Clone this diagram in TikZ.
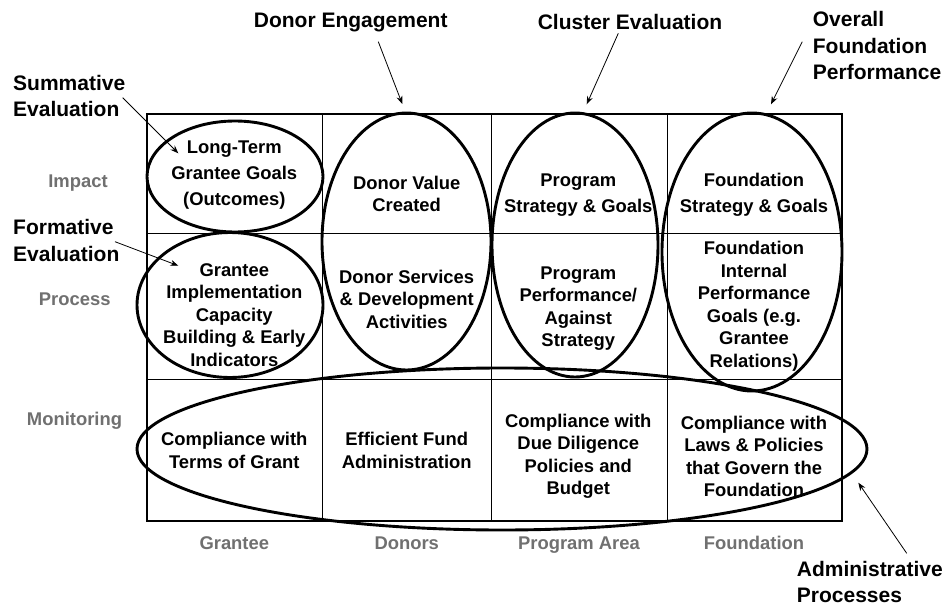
\documentclass[tikz,border=0pt]{standalone}
\usepackage{fontspec}
\setmainfont{Liberation Sans}
\usetikzlibrary{arrows.meta}
\definecolor{axisgray}{RGB}{112,112,112}
\begin{document}
\begin{tikzpicture}[x=1pt,y=-1pt,
  cell/.style={align=center,inner sep=0pt,font=\bfseries\fontsize{18.4}{22.5}\selectfont},
  cellwide/.style={cell,font=\bfseries\fontsize{18.4}{26}\selectfont},
  axislab/.style={inner sep=0pt,anchor=base,text=axisgray,font=\bfseries\fontsize{18.4}{22}\selectfont},
  callout/.style={inner sep=0pt,align=left,font=\bfseries\fontsize{21}{26.3}\selectfont},
  grid/.style={line width=1pt},
  frame/.style={line width=2.8pt},
  ring/.style={line width=2.9pt},
  pointer/.style={line width=0.8pt,-{Stealth[length=8pt,width=6pt]}}]
\fill[white] (0,0) rectangle (945,607);
\useasboundingbox (0,0) rectangle (945,607);

% grid
\draw[grid] (322,114) -- (322,521);
\draw[grid] (491,114) -- (491,521);
\draw[grid] (667,114) -- (667,521);
\draw[grid] (147,233) -- (842,233);
\draw[grid] (147,379) -- (842,379);
\draw[frame] (147,114) rectangle (842,521);

% axis labels
\node[axislab] (impact) at (78,187.3) {Impact};
\node[axislab] (process) at (74.7,305) {Process};
\node[axislab] (monitoring) at (74.5,425) {Monitoring};
\node[axislab] (grantee) at (234.3,549.3) {Grantee};
\node[axislab] (donors) at (406.7,549.3) {Donors};
\node[axislab] (programarea) at (579,549.3) {Program Area};
\node[axislab] (foundation) at (754,549.3) {Foundation};

% cell texts
\node[cellwide] (c11) at (234.3,175) {Long-Term\\Grantee Goals\\(Outcomes)};
\node[cell,font=\bfseries\fontsize{18.4}{22}\selectfont] (c12) at (406.7,194) {Donor Value\\Created};
\node[cellwide] (c13) at (578.3,194.7) {Program\\Strategy \& Goals};
\node[cellwide] (c14) at (754,194.7) {Foundation\\Strategy \& Goals};
\node[cell] (c21) at (234.3,314.7) {Grantee\\Implementation\\Capacity\\Building \& Early\\Indicators};
\node[cell] (c22) at (406.7,299.3) {Donor Services\\\& Development\\Activities};
\node[cell] (c23) at (578.3,308.8) {Program\\Performance/\\Against\\Strategy};
\node[cell] (c24) at (754,306.3) {Foundation\\Internal\\Performance\\Goals (e.g.\\Grantee\\Relations)};
\node[cell] (c31) at (234.3,450.5) {Compliance with\\Terms of Grant};
\node[cell] (c32) at (406.7,450.5) {Efficient Fund\\Administration};
\node[cell] (c33) at (578.3,456.3) {Compliance with\\Due Diligence\\Policies and\\Budget};
\node[cell] (c34) at (754,456.3) {Compliance with\\Laws \& Policies\\that Govern the\\Foundation};

% ellipses
\draw[ring] (235,176.5) ellipse [x radius=88pt, y radius=55.5pt];
\draw[ring] (230,305) ellipse [x radius=93pt, y radius=72.5pt];
\draw[ring] (406.5,241.5) ellipse [x radius=84.5pt, y radius=128.5pt];
\draw[ring] (575,245) ellipse [x radius=83pt, y radius=132pt];
\draw[ring] (752,252) ellipse [x radius=90pt, y radius=139pt];
\draw[ring] (502,449) ellipse [x radius=365pt, y radius=81pt];

% callout labels
\node[callout,anchor=west] (summative) at (13,96) {Summative\\Evaluation};
\node[callout,anchor=west] (formative) at (13,240.5) {Formative\\Evaluation};
\node[callout,anchor=base] (donoreng) at (350.7,27.3) {Donor Engagement};
\node[callout,anchor=base] (cluster) at (630,30) {Cluster Evaluation};
\node[callout,anchor=west] (overall) at (812.7,45.5) {Overall\\Foundation\\Performance};
\node[callout,anchor=west] (admin) at (796.7,582) {Administrative\\Processes};

% arrow coordinates
\coordinate (sumS) at (122.7,97.7);
\coordinate (sumE) at (178.3,153.3);
\coordinate (forS) at (115,241.7);
\coordinate (forE) at (178.3,265.7);
\coordinate (donS) at (378.3,41.7);
\coordinate (donE) at (402.3,104);
\coordinate (cluS) at (618.3,33.3);
\coordinate (cluE) at (586.7,104.3);
\coordinate (ovS) at (802.3,41.7);
\coordinate (ovE) at (771,104.3);
\coordinate (adS) at (906.7,553.3);
\coordinate (adE) at (858.3,482.7);

\draw[pointer] (sumS) -- (sumE);
\draw[pointer] (forS) -- (forE);
\draw[pointer] (donS) -- (donE);
\draw[pointer] (cluS) -- (cluE);
\draw[pointer] (ovS) -- (ovE);
\draw[pointer] (adS) -- (adE);
\end{tikzpicture}
\end{document}
